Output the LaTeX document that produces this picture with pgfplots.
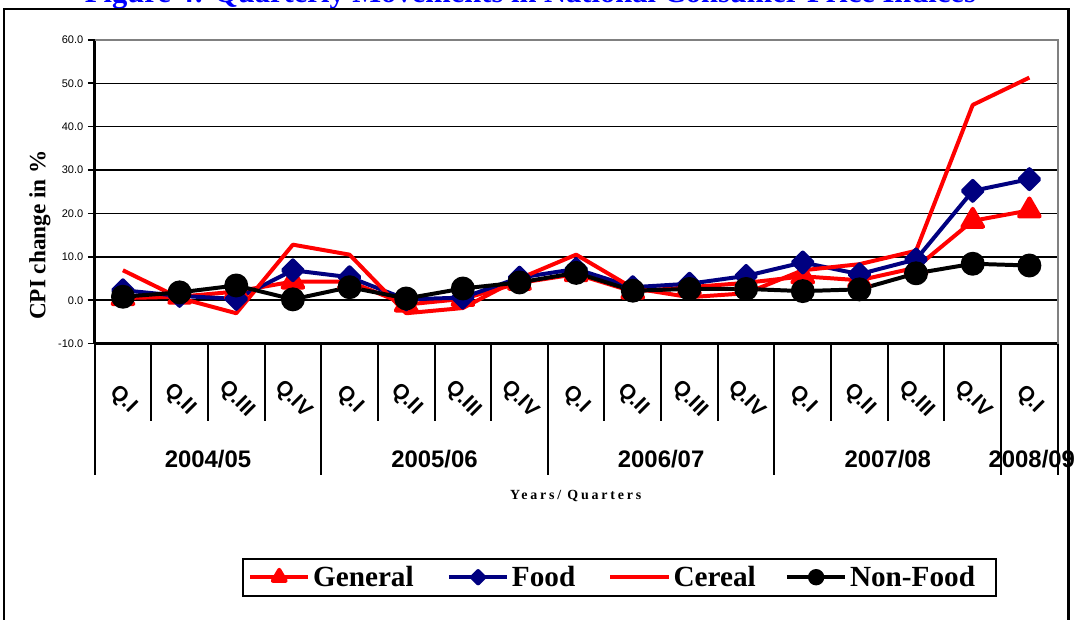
\documentclass[border=0pt]{standalone}
\usepackage{fontspec}
\setmainfont{Liberation Serif}
\setsansfont{Liberation Sans}
\usepackage{pgfplots}
\pgfplotsset{compat=1.18}
\definecolor{cred}{RGB}{255,0,0}
\definecolor{cnavy}{RGB}{0,0,128}
\definecolor{cblue}{RGB}{0,0,255}
\definecolor{cgray}{RGB}{128,128,128}

\begin{document}
\begin{tikzpicture}
\begin{scope}[x=0.75pt,y=-0.75pt]
\useasboundingbox (0,0) rectangle (1075,622);
\node[anchor=base west, font=\bfseries\fontsize{23}{26}\selectfont, text=cblue, inner sep=0pt] at (85,3) {Figure 4: Quarterly Movements in National Consumer Price Indices};
\draw[line width=2.2pt] (4,9) rectangle (1073,660);
\end{scope}
\begin{axis}[
  at={(71.25pt,-258.75pt)}, anchor=south west,
  scale only axis, width=725.25pt, height=228.75pt,
  xmin=-0.5, xmax=16.5, ymin=-10, ymax=60,
  axis y line*=left, axis x line*=bottom,
  axis line style={black, line width=2pt},
  ytick={-10,0,...,60},
  /pgf/number format/fixed, /pgf/number format/fixed zerofill, /pgf/number format/precision=1, /pgf/number format/assume math mode=true,
  yticklabel style={font=\sffamily\fontsize{8.3}{10}\selectfont},
  y tick style={black, line width=1.2pt}, tick align=outside, major tick length=5pt,
  ymajorgrids, major grid style={black, line width=1.1pt},
  xtick={0,...,16},
  xticklabels={Q.I,Q.II,Q.III,Q.IV,Q.I,Q.II,Q.III,Q.IV,Q.I,Q.II,Q.III,Q.IV,Q.I,Q.II,Q.III,Q.IV,Q.I},
  x tick style={draw=none},
  xticklabel style={yshift=-37pt, rotate=-45, anchor=center, font=\sffamily\bfseries\fontsize{16}{18}\selectfont},
  clip=false,
  legend image code/.code={\draw[mark repeat=2,mark phase=2,#1, every mark/.append style={scale=0.62}] plot coordinates {(0pt,0pt) (22pt,0pt) (44pt,0pt)};},
  legend columns=4,
  legend style={at={(rel axis cs:0.545,-0.769)}, anchor=center, draw=black, line width=1.5pt,
    font=\bfseries\fontsize{22}{25}\selectfont, inner sep=3.5pt,
    /tikz/every even column/.append style={column sep=2pt}},
]
\addplot[color=cred, line width=3pt, line join=round, mark=triangle*, mark size=9pt, mark options={solid}] table {
x y
0 0.5
1 0.8
2 2.0
3 4.3
4 4.3
5 -1.0
6 0.3
7 4.0
8 6.0
9 2.0
10 3.0
11 4.0
12 5.5
13 4.6
14 7.5
15 18.3
16 20.7
};
\addlegendentry{General\hspace{21pt}\mbox{}}
\addplot[color=cnavy, line width=3pt, line join=round, mark=diamond*, mark size=7.5pt, mark options={solid, xscale=1.33}] table {
x y
0 2.3
1 1.0
2 0.3
3 6.9
4 5.3
5 0.2
6 0.6
7 5.2
8 7.2
9 3.0
10 3.8
11 5.6
12 8.7
13 6.0
14 9.4
15 25.2
16 27.9
};
\addlegendentry{Food\hspace{21pt}\mbox{}}
\addplot[color=cred, line width=3pt, line join=round, mark=none] table {
x y
0 6.9
1 0.5
2 -3.0
3 12.8
4 10.5
5 -3.0
6 -1.8
7 5.0
8 10.5
9 2.8
10 0.7
11 1.6
12 6.9
13 8.3
14 11.4
15 45.0
16 51.3
};
\addlegendentry{Cereal\hspace{18pt}\mbox{}}
\addplot[color=black, line width=3pt, line join=round, mark=*, mark size=7.5pt, mark options={solid}] table {
x y
0 0.8
1 1.8
2 3.4
3 0.2
4 3.0
5 0.4
6 2.7
7 4.1
8 6.3
9 2.2
10 2.6
11 2.6
12 2.1
13 2.5
14 6.2
15 8.4
16 8.0
};
\addlegendentry{Non-Food\hspace{10pt}\mbox{}}
\draw[cgray, line width=1.5pt] (rel axis cs:0,1) -- (rel axis cs:1,1) -- (rel axis cs:1,0);
\end{axis}
\begin{scope}[x=0.75pt,y=-0.75pt]
\foreach \k in {1,2,3,5,6,7,9,10,11,13,14,15}{
  \draw[line width=1.5pt] ({95+56.882*\k},345) -- ({95+56.882*\k},423);
}
\foreach \k in {0,4,8,12,16,17}{
  \draw[line width=1.5pt] ({95+56.882*\k},345) -- ({95+56.882*\k},477);
}
\foreach \x/\t in {208.8/2004\slash 05,436.3/2005\slash 06,663.8/2006\slash 07,891.4/2007\slash 08,1036/2008\slash 09}{
  \node[font=\sffamily\bfseries\fontsize{18}{20}\selectfont, inner sep=0pt] at (\x,461) {\t};
}
\node[font=\bfseries\fontsize{10.5}{12}\selectfont\addfontfeature{LetterSpace=20}, inner sep=0pt] at (578,498) {Years/ Quarters};
\node[rotate=90, font=\bfseries\fontsize{17.5}{20}\selectfont, inner sep=0pt] at (40,236) {CPI change in \%};
\end{scope}
\end{tikzpicture}
\end{document}
